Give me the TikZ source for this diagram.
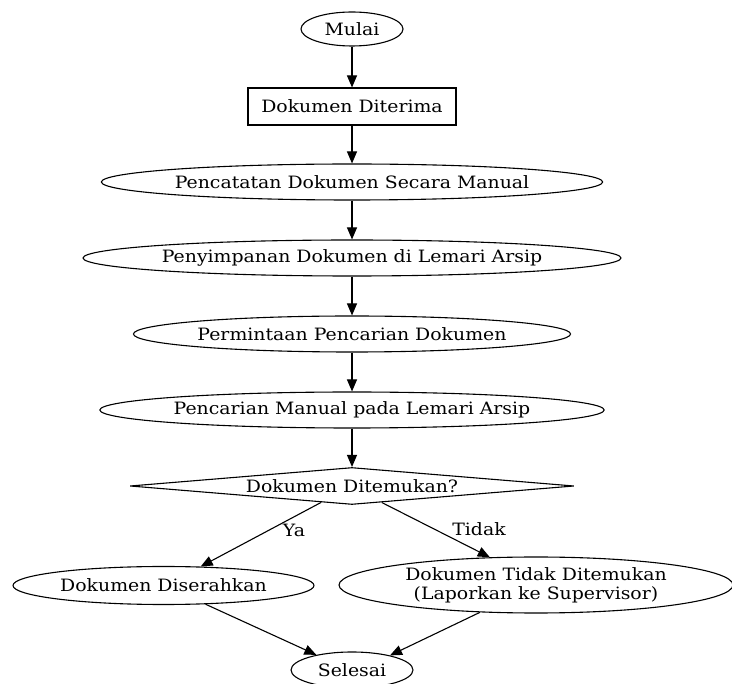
\documentclass[tikz,border=0pt]{standalone}
\usepackage{fontspec}
\setmainfont{DejaVu Serif}[FakeStretch=1.11]
\usetikzlibrary{shapes.geometric,arrows.meta}
\begin{document}
\begin{tikzpicture}[x=1pt,y=-1pt,
  every node/.style={font=\fontsize{17}{19}\selectfont, inner sep=0pt},
  ell/.style={draw, ellipse, line width=1.1pt},
  rectbox/.style={draw, rectangle, line width=1.1pt},
  decision/.style={draw, diamond, aspect=12, line width=1.1pt},
  arr/.style={line width=1.1pt, -{Triangle[length=12pt,width=10pt]}},
  lbl/.style={}]
\useasboundingbox (0,0) rectangle (732,684);
\node[ell, minimum width=102pt, minimum height=34pt] (mulai) at (352,29) {Mulai};
\node[rectbox, minimum width=208pt, minimum height=37pt] (terima) at (352,106.5) {Dokumen Diterima};
\node[ell, minimum width=494pt, minimum height=36pt] (catat) at (352,182) {Pencatatan Dokumen Secara Manual};
\node[ell, minimum width=530pt, minimum height=36pt] (simpan) at (352,258) {Penyimpanan Dokumen di Lemari Arsip};
\node[ell, minimum width=436pt, minimum height=36pt] (minta) at (352,334) {Permintaan Pencarian Dokumen};
\node[ell, minimum width=498pt, minimum height=36pt] (cari) at (352,410) {Pencarian Manual pada Lemari Arsip};
\node[decision, minimum width=444pt, minimum height=37pt] (dec) at (352,486) {Dokumen Ditemukan?};
\node[ell, minimum width=301pt, minimum height=38pt] (serah) at (163.5,585.5) {Dokumen Diserahkan};
\node[ell, minimum width=394pt, minimum height=56pt, align=center] (tidak) at (536,585) {Dokumen Tidak Ditemukan\\(Laporkan ke Supervisor)};
\node[ell, minimum width=122pt, minimum height=36pt] (selesai) at (352,670) {Selesai};
\node[lbl] (ya) at (294,530) {Ya};
\node[lbl] (td) at (479,529) {Tidak};
\draw[arr] (mulai) -- (terima);
\draw[arr] (terima) -- (catat);
\draw[arr] (catat) -- (simpan);
\draw[arr] (simpan) -- (minta);
\draw[arr] (minta) -- (cari);
\draw[arr] (cari) -- (dec);
\draw[arr] (dec.208) -- (serah.27);
\draw[arr] (dec.331) -- (tidak.149.6);
\draw[arr] (serah.336) -- (selesai.157.6);
\draw[arr] (tidak.206.6) -- (selesai.21.8);
\end{tikzpicture}
\end{document}
